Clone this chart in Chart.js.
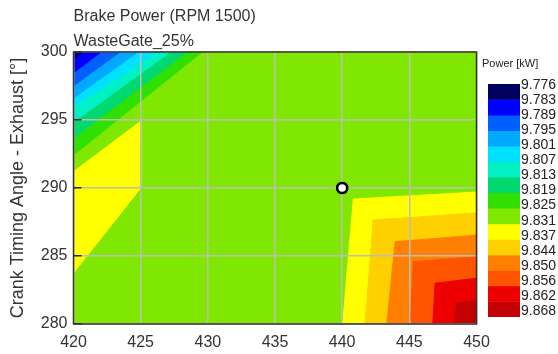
<!DOCTYPE html>
<html>
<head>
<meta charset="utf-8">
<script src="https://cdn.jsdelivr.net/npm/chart.js@4.4.0/dist/chart.umd.min.js"></script>
<style>
  html, body { margin: 0; padding: 0; background: #fff; }
  #wrap { position: relative; width: 558px; height: 354px; }
  .box { position: absolute; top: 0; }
</style>
</head>
<body>
<div id="wrap">
  <div class="box" style="left:0;width:558px;height:354px"><canvas id="main"></canvas></div>
  <div class="box" style="left:482px;width:76px;height:354px"><canvas id="bar"></canvas></div>
</div>
<script>
// contour map: brake power vs crank timing angles

const X_TICKS = [420, 425, 430, 435, 440, 445, 450];
const Y_TICKS = [280, 285, 290, 295, 300];
const LEVELS = ['9.776','9.783','9.789','9.795','9.801','9.807','9.813','9.819',
                '9.825','9.831','9.837','9.844','9.850','9.856','9.862','9.868'];
const BAND_COLORS = ['#000060','#0000ff','#0060ff','#00a8ff','#00e0ff','#00f2c4','#00d870',
                     '#30e000','#80e800','#ffff00','#ffd000','#ff8000','#ff5500','#ee0000','#c40000'];

// band covering most of the map
const BASE_BAND = 8;

// top-left corner: each band edge meets the top border (x at y=300) and the left border (y at x=420)
const TL_TOP_X  = [420.7, 422.05, 423.46, 424.8, 426.2, 427.2, 428.45, 429.57];
const TL_LEFT_Y = [299.49, 298.46, 297.5, 296.62, 295.96, 294.85, 293.68, 292.43];
const TL_BAND   = [0, 1, 2, 3, 4, 5, 6, 7];

// yellow wedge on the left border
const WEDGE_X = [420, 425, 425, 420];
const WEDGE_Y = [291.2, 294.9, 290, 283.75];
const WEDGE_BAND = 9;

// bottom-right corner: edge meets right border, bends at a corner, meets bottom border
const BR_RIGHT_Y  = [289.7, 288.16, 286.54, 284.95, 283.36, 281.71];
const BR_CORNER_X = [440.83, 442.32, 443.94, 445.3, 446.92, 448.53];
const BR_CORNER_Y = [289.19, 287.65, 286.05, 284.58, 283.0, 281.52];
const BR_BOTTOM_X = [440.04, 441.7, 443.32, 445.05, 446.75, 448.33];
const BR_BAND     = [9, 10, 11, 12, 13, 14];

const OPERATING_POINT = [{ x: 440, y: 290 }];

const FONT = "'Liberation Sans', Arial, sans-serif";
Chart.defaults.font.family = FONT;
Chart.defaults.color = '#333';

const xMin = X_TICKS[0], xMax = X_TICKS[X_TICKS.length - 1];
const yMin = Y_TICKS[0], yMax = Y_TICKS[Y_TICKS.length - 1];

function area(points, band) {
  const c = BAND_COLORS[band];
  return {
    data: points, fill: 'shape', showLine: true, tension: 0,
    backgroundColor: c, borderColor: c, borderWidth: 1,
    pointRadius: 0, pointHoverRadius: 0, clip: 0
  };
}

// first in list = drawn on top
const datasets = [{
  data: OPERATING_POINT, showLine: false,
  pointRadius: 5, pointHoverRadius: 5, pointBorderWidth: 2.5,
  pointBackgroundColor: '#fff', pointBorderColor: '#000'
}];

for (let i = BR_BAND.length - 1; i >= 0; i--) {
  datasets.push(area([
    { x: xMax, y: yMin }, { x: xMax, y: BR_RIGHT_Y[i] },
    { x: BR_CORNER_X[i], y: BR_CORNER_Y[i] }, { x: BR_BOTTOM_X[i], y: yMin }
  ], BR_BAND[i]));
}
datasets.push(area(WEDGE_X.map((x, i) => ({ x, y: WEDGE_Y[i] })), WEDGE_BAND));
for (let i = 0; i < TL_BAND.length; i++) {
  datasets.push(area([
    { x: xMin, y: yMax }, { x: TL_TOP_X[i], y: yMax }, { x: xMin, y: TL_LEFT_Y[i] }
  ], TL_BAND[i]));
}
datasets.push(area([
  { x: xMin, y: yMin }, { x: xMax, y: yMin }, { x: xMax, y: yMax }, { x: xMin, y: yMax }
], BASE_BAND));

const framePlugin = {
  id: 'frame',
  afterDraw(chart) {
    const { ctx, chartArea: a } = chart;
    ctx.save();
    ctx.strokeStyle = '#333';
    ctx.lineWidth = 1.5;
    ctx.strokeRect(a.left, a.top, a.right - a.left, a.bottom - a.top);
    ctx.restore();
    // keep the operating point above the grid lines
    chart.getDatasetMeta(0).data.forEach(el => el.draw(ctx, a));
  }
};

new Chart(document.getElementById('main'), {
  type: 'line',
  data: { datasets },
  options: {
    responsive: true,
    maintainAspectRatio: false,
    animation: false,
    events: [],
    layout: { padding: { left: 0, right: 81.5, top: 0, bottom: 0 } },
    plugins: {
      legend: { display: false },
      tooltip: { enabled: false },
      title: {
        display: true, text: 'Brake Power (RPM 1500)', align: 'start', fullSize: false,
        color: '#333', font: { size: 16, weight: 'normal' }, padding: { top: 7, bottom: 6 }
      },
      subtitle: {
        display: true, text: 'WasteGate_25%', align: 'start', fullSize: false,
        color: '#333', font: { size: 16, weight: 'normal' }, padding: { top: 0, bottom: 0.6 }
      }
    },
    scales: {
      x: {
        type: 'linear', min: xMin, max: xMax,
        afterBuildTicks: s => { s.ticks = X_TICKS.map(v => ({ value: v })); },
        afterFit: s => { s.height = 30; },
        grid: { z: 1, color: '#bdbdbd', lineWidth: 1.5, drawTicks: false },
        border: { display: false },
        ticks: { color: '#333', font: { size: 16 }, padding: 9, autoSkip: false, maxRotation: 0 }
      },
      y: {
        type: 'linear', min: yMin, max: yMax,
        afterBuildTicks: s => { s.ticks = Y_TICKS.map(v => ({ value: v })); },
        afterFit: s => { s.width = 73.5; },
        grid: { z: 1, color: '#bdbdbd', lineWidth: 1.5, drawTicks: true, tickLength: -8, tickColor: '#222', tickWidth: 1.5 },
        border: { display: false },
        ticks: { color: '#333', font: { size: 16 }, padding: 14, autoSkip: false },
        title: {
          display: true, text: 'Crank Timing Angle - Exhaust [°]', color: '#333',
          font: { size: 18 }, padding: { top: 7.7, bottom: 0 }
        }
      }
    }
  },
  plugins: [framePlugin]
});

// colour scale
new Chart(document.getElementById('bar'), {
  type: 'bar',
  data: {
    labels: [''],
    datasets: BAND_COLORS.map((c, i) => ({
      data: [[i, i + 1]], backgroundColor: c, borderWidth: 0,
      barPercentage: 1, categoryPercentage: 1, yAxisID: 'y'
    }))
  },
  options: {
    responsive: true,
    maintainAspectRatio: false,
    animation: false,
    events: [],
    layout: { padding: { left: 0, right: 0, top: 0, bottom: 37 } },
    plugins: {
      legend: { display: false },
      tooltip: { enabled: false },
      title: {
        display: true, text: 'Power [kW]', align: 'start',
        color: '#222', font: { size: 11, weight: 'normal' }, padding: { top: 57.4, bottom: 13.4 }
      }
    },
    scales: {
      x: { stacked: true, display: false },
      y: {
        position: 'left', stacked: false, reverse: true, min: 0, max: BAND_COLORS.length,
        afterFit: s => { s.width = 6; },
        grid: { display: false, drawTicks: false },
        border: { display: false },
        ticks: { display: false }
      },
      lv: {
        type: 'linear', position: 'right', reverse: true, min: -0.046, max: 15.371,
        afterBuildTicks: s => { s.ticks = LEVELS.map((_, i) => ({ value: i })); },
        afterFit: s => { s.width = 38; },
        grid: { display: false, drawTicks: false },
        border: { display: false },
        ticks: { color: '#222', font: { size: 14 }, padding: 1, autoSkip: false,
                 callback: (v, i) => LEVELS[i] }
      }
    }
  }
});
</script>
</body>
</html>
